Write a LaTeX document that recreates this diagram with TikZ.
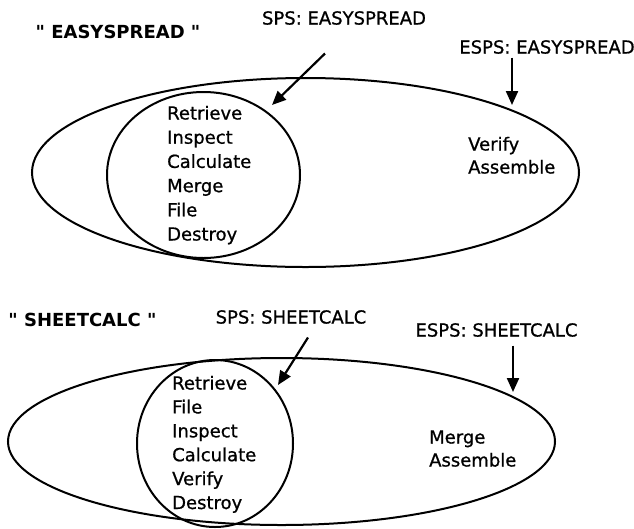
\documentclass[tikz,border=0pt]{standalone}
\usepackage{fontspec}
\setmainfont{DejaVu Sans}[Ligatures=TeXOff]
\newfontface\plainface{DejaVu Sans}[Ligatures=TeXOff,FakeBold=0.8]
\usetikzlibrary{arrows.meta,positioning}

\begin{document}
\begin{tikzpicture}[
x=1pt,y=-1pt,
Labels/.style={inner sep=0pt,font=\fontsize{18}{24}\plainface},
Titles/.style={inner sep=0pt,font=\fontsize{18}{24}\selectfont\bfseries},
Items/.style={inner sep=0pt,anchor=base west,font=\fontsize{18}{24}\plainface},
Sets/.style={draw=black,line width=2pt},
Pointers/.style={-{Triangle[length=14pt,width=12pt]},line width=2.2pt}
]
\useasboundingbox (0,0) rectangle (634,528);

% EASYSPREAD
\draw[Sets] (305.5,172.5) ellipse [x radius=273.5pt,y radius=94.5pt];
\draw[Sets] (203.5,175) ellipse [x radius=96.5pt,y radius=83pt];

\node[Titles] (titleA) at (118,32) {" EASYSPREAD "};
\node[Labels] (spsA) at (344,18) {SPS: EASYSPREAD};
\node[Labels] (espsA) at (547,47) {ESPS: EASYSPREAD};

\foreach \w [count=\i] in {Retrieve,Inspect,Calculate,Merge,File,Destroy}
  \node[Items] (spsA\i) at (167,{119.5+24.2*(\i-1)}) {\w};
\node[Items] (espsA1) at (468,150.5) {Verify};
\node[Items] (espsA2) at (468,173.5) {Assemble};

\coordinate (tipA1) at (272,105);
\coordinate (tipA2) at (512,105);
\draw[Pointers] ([xshift=-19pt,yshift=-28.5pt]spsA.south) -- (tipA1);
\draw[Pointers] ([xshift=-35pt,yshift=-3.5pt]espsA.south) -- (tipA2);

% SHEETCALC
\draw[Sets] (281.5,441.5) ellipse [x radius=273.5pt,y radius=83.5pt];
\draw[Sets] (215,443.5) ellipse [x radius=78pt,y radius=83.5pt];

\node[Titles] (titleB) at (82.5,320) {" SHEETCALC "};
\node[Labels] (spsB) at (291,317) {SPS: SHEETCALC};
\node[Labels] (espsB) at (496.5,330) {ESPS: SHEETCALC};

\foreach \w [count=\i] in {Retrieve,File,Inspect,Calculate,Verify,Destroy}
  \node[Items] (spsB\i) at (172,{389.5+23.9*(\i-1)}) {\w};
\node[Items] (espsB1) at (429,443.5) {Merge};
\node[Items] (espsB2) at (429,466.5) {Assemble};

\coordinate (tipB1) at (278,385);
\coordinate (tipB2) at (513,392);
\draw[Pointers] ([xshift=17pt,yshift=-13.5pt]spsB.south) -- (tipB1);
\draw[Pointers] ([xshift=16.5pt,yshift=-8.5pt]espsB.south) -- (tipB2);

\end{tikzpicture}
\end{document}
